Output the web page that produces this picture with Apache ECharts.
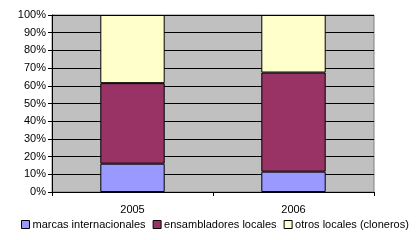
<!DOCTYPE html>
<html><head><meta charset="utf-8">
<script src="https://cdn.jsdelivr.net/npm/echarts@6/dist/echarts.min.js"></script>
<style>html,body{margin:0;padding:0;background:#fff}#c{width:416px;height:240px}</style>
</head><body><div id="c"></div>
<script>
var categories = ['2005', '2006'];
var marcas = [16, 11.5];
var ensambladores = [45.5, 56];
var otros = [38.5, 32.5];
var seriesNames = ['marcas internacionales', 'ensambladores locales', 'otros locales (cloneros)'];
var colors = ['#9999FF', '#993366', '#FFFFCC'];

var chart = echarts.init(document.getElementById('c'));
var font = 'Liberation Sans, Arial, sans-serif';
function mk(name, data, color) {
  return {
    name: name, type: 'bar', stack: 'a', data: data, barWidth: '40%',
    itemStyle: { color: color, borderColor: '#000', borderWidth: 1 },
    emphasis: { disabled: true }
  };
}
chart.setOption({
  animation: false,
  grid: { left: 52, right: 42, top: 15, bottom: 48, show: true, backgroundColor: '#C0C0C0', borderColor: '#808080', borderWidth: 1 },
  xAxis: {
    type: 'category', data: categories,
    axisLine: { lineStyle: { color: '#000', width: 1 } },
    axisTick: { show: true, length: 4, alignWithLabel: false, lineStyle: { color: '#000' } },
    axisLabel: { color: '#000', fontFamily: font, fontSize: 11, margin: 12 }
  },
  yAxis: {
    type: 'value', min: 0, max: 100, interval: 10,
    axisLine: { show: true, lineStyle: { color: '#000' } },
    axisTick: { show: true, length: 4, lineStyle: { color: '#000' } },
    splitLine: { lineStyle: { color: '#000', width: 1 } },
    axisLabel: { formatter: '{value}%', color: '#000', fontFamily: font, fontSize: 11, margin: 6 }
  },
  legend: {
    top: 214, left: 16, icon: 'rect', itemWidth: 8, itemHeight: 8, itemGap: 7,
    textStyle: { color: '#000', fontFamily: font, fontSize: 11, padding: [0, 0, 0, -2] },
    itemStyle: { borderColor: '#000', borderWidth: 1 },
    data: seriesNames
  },
  series: [
    mk(seriesNames[0], marcas, colors[0]),
    mk(seriesNames[1], ensambladores, colors[1]),
    mk(seriesNames[2], otros, colors[2])
  ]
});
</script></body></html>
